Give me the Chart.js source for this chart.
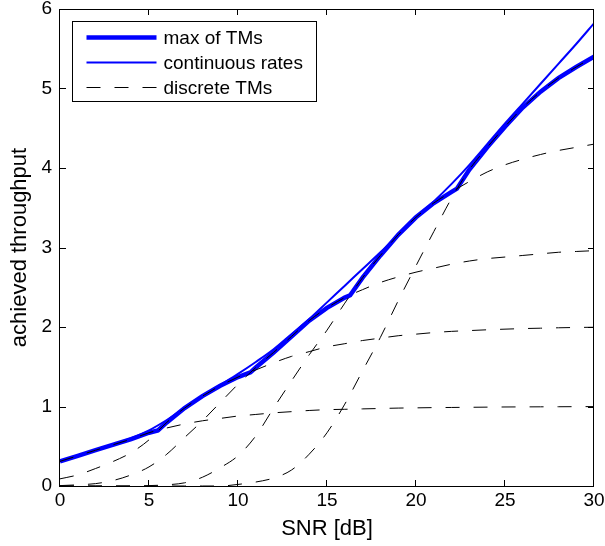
<!DOCTYPE html>
<html>
<head>
<meta charset="utf-8">
<script src="https://cdn.jsdelivr.net/npm/chart.js@4.4.1/dist/chart.umd.min.js"></script>
<style>
  html, body { margin: 0; padding: 0; background: #fff; }
  canvas { display: block; }
</style>
</head>
<body>
<canvas id="chart" width="605" height="546"></canvas>
<script>
// SNR grid in dB, shared by the discrete TMs and the continuous rates
const snr = [0, 1, 2, 3, 4, 5, 6, 7, 8, 9, 10, 11, 12, 13, 14, 15,
             16, 17, 18, 19, 20, 21, 22, 23, 24, 25, 26, 27, 28, 29, 30];

// discrete transmission modes
const tm1 = [0.31, 0.38, 0.45, 0.52, 0.59, 0.67, 0.73, 0.78, 0.82, 0.85, 0.88, 0.90, 0.92, 0.935, 0.95, 0.96,
             0.965, 0.97, 0.975, 0.98, 0.983, 0.986, 0.988, 0.99, 0.992, 0.994, 0.995, 0.996, 0.997, 0.998, 0.999];
const tm2 = [0.09, 0.14, 0.22, 0.31, 0.42, 0.58, 0.80, 0.98, 1.13, 1.26, 1.37, 1.46, 1.55, 1.63, 1.69, 1.75,
             1.79, 1.83, 1.86, 1.89, 1.91, 1.93, 1.945, 1.955, 1.965, 1.973, 1.98, 1.985, 1.99, 1.994, 1.997];
const tm3 = [0.005, 0.015, 0.03, 0.07, 0.14, 0.24, 0.40, 0.61, 0.82, 1.05, 1.28, 1.49, 1.68, 1.88, 2.08, 2.24,
             2.37, 2.47, 2.56, 2.63, 2.69, 2.74, 2.79, 2.83, 2.86, 2.88, 2.90, 2.92, 2.94, 2.95, 2.96];
const tm4 = [0, 0, 0, 0, 0, 0.005, 0.015, 0.04, 0.11, 0.23, 0.38, 0.63, 0.98, 1.32, 1.65, 1.96,
             2.30, 2.62, 2.90, 3.16, 3.38, 3.56, 3.70, 3.83, 3.95, 4.04, 4.11, 4.17, 4.22, 4.26, 4.30];
const tm5 = [0, 0, 0, 0, 0, 0, 0, 0, 0, 0, 0.02, 0.05, 0.10, 0.20, 0.40, 0.67,
             1.03, 1.45, 1.87, 2.33, 2.77, 3.20, 3.62, 3.98, 4.26, 4.52, 4.76, 4.96, 5.13, 5.27, 5.40];

// continuous rates
const contRates = [0.31, 0.38, 0.45, 0.52, 0.60, 0.70, 0.83, 0.98, 1.13, 1.27, 1.41, 1.56, 1.72, 1.91, 2.10, 2.31,
                   2.52, 2.73, 2.94, 3.16, 3.38, 3.58, 3.80, 4.04, 4.30, 4.56, 4.81, 5.06, 5.31, 5.56, 5.82];

// max of TMs, including the switching points between modes
const maxSnr = [0, 1, 2, 3, 4, 5, 5.5, 6, 7, 8, 9, 10, 10.7, 11, 12, 13, 14, 15, 16, 16.3,
                17, 18, 19, 20, 21, 22, 22.3, 23, 24, 25, 26, 27, 28, 29, 30];
const maxTput = [0.31, 0.38, 0.45, 0.52, 0.59, 0.67, 0.70, 0.80, 0.98, 1.13, 1.26, 1.37, 1.43, 1.49, 1.68, 1.88, 2.08, 2.24, 2.37, 2.40,
                 2.62, 2.90, 3.16, 3.38, 3.56, 3.70, 3.74, 3.98, 4.26, 4.52, 4.76, 4.96, 5.13, 5.27, 5.40];

const xTicks = [0, 5, 10, 15, 20, 25, 30];
const yTicks = [0, 1, 2, 3, 4, 5, 6];

const FONT = '"Liberation Sans", Arial, Helvetica, sans-serif';
const TICK_SIZE = 19;
const TITLE_SIZE = 22;

function toPoints(xs, ys) {
    return xs.map((x, i) => ({ x: x, y: ys[i] }));
}

function tmDataset(values, label) {
    return {
        label: label,
        data: toPoints(snr, values),
        borderColor: '#000000',
        borderWidth: 1,
        borderDash: [14, 14],
        pointRadius: 0,
        fill: false,
        cubicInterpolationMode: 'monotone',
        order: 0
    };
}

const datasets = [
    {
        label: 'max of TMs',
        data: toPoints(maxSnr, maxTput),
        borderColor: '#0000ff',
        borderWidth: 4.5,
        pointRadius: 0,
        fill: false,
        tension: 0,
        order: 2
    },
    {
        label: 'continuous rates',
        data: toPoints(snr, contRates),
        borderColor: '#0000ff',
        borderWidth: 2,
        pointRadius: 0,
        fill: false,
        cubicInterpolationMode: 'monotone',
        order: 1
    },
    tmDataset(tm1, 'discrete TMs'),
    tmDataset(tm2, ''),
    tmDataset(tm3, ''),
    tmDataset(tm4, ''),
    tmDataset(tm5, '')
];

// which datasets get a legend row
const legendRows = [0, 1, 2];

// MATLAB style box, inward ticks and the legend inside the axes
const frameAndLegend = {
    id: 'frameAndLegend',
    afterDraw(chart) {
        const ctx = chart.ctx;
        const a = chart.chartArea;
        const xs = chart.scales.x;
        const ys = chart.scales.y;
        const tl = 6;

        ctx.save();
        ctx.strokeStyle = '#000000';
        ctx.lineWidth = 1;
        ctx.setLineDash([]);

        ctx.beginPath();
        xTicks.forEach(v => {
            const px = Math.round(xs.getPixelForValue(v)) - 0.5;
            ctx.moveTo(px, a.bottom); ctx.lineTo(px, a.bottom - tl);
            ctx.moveTo(px, a.top); ctx.lineTo(px, a.top + tl);
        });
        yTicks.forEach(v => {
            const py = Math.round(ys.getPixelForValue(v)) + 0.5;
            ctx.moveTo(a.left, py); ctx.lineTo(a.left + tl, py);
            ctx.moveTo(a.right, py); ctx.lineTo(a.right - tl, py);
        });
        ctx.stroke();

        ctx.strokeRect(a.left - 0.5, a.top + 0.5, a.right - a.left, a.bottom - a.top);

        // legend box
        const bx = a.left + 12.5, by = a.top + 12.5, bw = 244, bh = 80;
        ctx.fillStyle = '#ffffff';
        ctx.fillRect(bx, by, bw, bh);
        ctx.strokeRect(bx, by, bw, bh);

        ctx.font = TICK_SIZE + 'px ' + FONT;
        ctx.textBaseline = 'middle';
        ctx.textAlign = 'left';
        legendRows.forEach((di, row) => {
            const ds = chart.data.datasets[di];
            const y = by + 16 + row * 25;
            ctx.beginPath();
            ctx.strokeStyle = ds.borderColor;
            ctx.lineWidth = ds.borderWidth;
            ctx.setLineDash(ds.borderDash || []);
            ctx.moveTo(bx + 14, y);
            ctx.lineTo(bx + 84, y);
            ctx.stroke();
            ctx.setLineDash([]);
            ctx.fillStyle = '#000000';
            ctx.fillText(ds.label, bx + 91, y + 1);
        });
        ctx.restore();
    }
};

new Chart(document.getElementById('chart'), {
    type: 'line',
    data: { datasets: datasets },
    options: {
        responsive: false,
        animation: false,
        devicePixelRatio: 1,
        layout: { padding: { left: 0, right: 11, top: 9, bottom: 0 } },
        plugins: {
            legend: { display: false },
            tooltip: { enabled: false }
        },
        scales: {
            x: {
                type: 'linear',
                min: 0,
                max: 30,
                afterBuildTicks: s => { s.ticks = xTicks.map(v => ({ value: v })); },
                afterFit: s => { s.height = 60; s.paddingLeft = 0; s.paddingRight = 0; },
                grid: { display: false, drawTicks: false },
                border: { display: false },
                ticks: {
                    color: '#000000',
                    padding: 3,
                    maxRotation: 0,
                    font: { family: FONT, size: TICK_SIZE }
                },
                title: {
                    display: true,
                    text: 'SNR [dB]',
                    color: '#000000',
                    font: { family: FONT, size: TITLE_SIZE },
                    padding: { top: 0, bottom: 4 }
                }
            },
            y: {
                type: 'linear',
                min: 0,
                max: 6,
                afterBuildTicks: s => { s.ticks = yTicks.map(v => ({ value: v })); },
                afterFit: s => { s.width = 60; s.paddingTop = 0; s.paddingBottom = 0; },
                grid: { display: false, drawTicks: false },
                border: { display: false },
                ticks: {
                    color: '#000000',
                    padding: 8,
                    font: { family: FONT, size: TICK_SIZE }
                },
                title: {
                    display: true,
                    text: 'achieved throughput',
                    color: '#000000',
                    font: { family: FONT, size: TITLE_SIZE },
                    padding: { top: 7, bottom: 0 }
                }
            }
        }
    },
    plugins: [frameAndLegend]
});
</script>
</body>
</html>
